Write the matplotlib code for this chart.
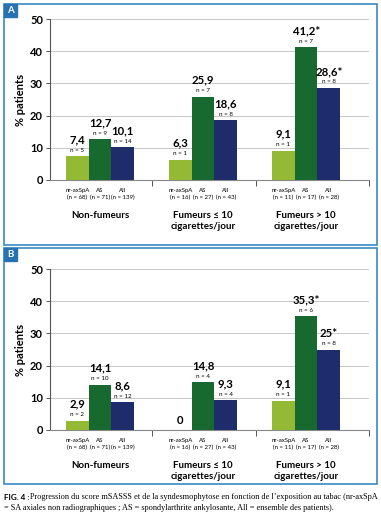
import matplotlib
matplotlib.use("Agg")
import matplotlib.pyplot as plt
from matplotlib.patches import Rectangle

groups = ["Non-fumeurs", "Fumeurs \u2264 10\ncigarettes/jour", "Fumeurs > 10\ncigarettes/jour"]
series = ["nr-axSpA", "AS", "All"]
group_n = [[68, 71, 139], [16, 27, 43], [11, 17, 28]]
colors = ["#93b935", "#17692f", "#1f2c6b"]

values_a = [[7.4, 12.7, 10.1], [6.3, 25.9, 18.6], [9.1, 41.2, 28.6]]
n_a = [[5, 9, 14], [1, 7, 8], [1, 7, 8]]
star_a = [[False, False, False], [False, False, False], [False, True, True]]

values_b = [[2.9, 14.1, 8.6], [0, 14.8, 9.3], [9.1, 35.3, 25]]
n_b = [[2, 10, 12], [None, 4, 4], [1, 6, 8]]
star_b = [[False, False, False], [False, False, False], [False, True, True]]

yticks = [0, 10, 20, 30, 40, 50]

FONT = "Lato"
W, H = 381, 516
BORDER = "#3a8ac4"


def fmt(v, star):
    s = ("%g" % v).replace(".", ",")
    return s + ("*" if star else "")


def draw_panel(ax, values, ns, stars):
    width = 0.22
    for g in range(len(groups)):
        for s in range(len(series)):
            x = g + (s - 1) * width
            v = values[g][s]
            ax.bar(x, v, width=width, color=colors[s], zorder=3)
            if ns[g][s] is not None:
                ax.annotate("n = %d" % ns[g][s], xy=(x, v), xytext=(0, 4.3),
                            textcoords="offset points", ha="center", va="center",
                            fontsize=4.5, family=FONT)
                ax.annotate(fmt(v, stars[g][s]), xy=(x, v), xytext=(0, 11.8),
                            textcoords="offset points", ha="center", va="center",
                            fontsize=8.2, family=FONT, fontweight="bold")
            else:
                ax.annotate(fmt(v, stars[g][s]), xy=(x, v), xytext=(0, 6.5),
                            textcoords="offset points", ha="center", va="center",
                            fontsize=8.2, family=FONT, fontweight="bold")
            ax.annotate(series[s], xy=(x, 0), xycoords=("data", "axes fraction"),
                        xytext=(0, -7.4), textcoords="offset points",
                        ha="center", va="center", fontsize=4.3, family=FONT)
            ax.annotate("(n = %d)" % group_n[g][s], xy=(x, 0),
                        xycoords=("data", "axes fraction"),
                        xytext=(0, -12.4), textcoords="offset points",
                        ha="center", va="center", fontsize=4.3, family=FONT)
        ax.annotate(groups[g], xy=(g, 0), xycoords=("data", "axes fraction"),
                    xytext=(0, -22.5), textcoords="offset points",
                    ha="center", va="top", fontsize=7.0, family=FONT,
                    fontweight="bold", linespacing=1.2)

    ax.set_xlim(-0.485, 2.61)
    ax.set_ylim(0, 50)
    ax.set_yticks(yticks)
    ax.set_yticklabels([str(t) for t in yticks], fontsize=8, family=FONT,
                       fontweight="bold")
    ax.set_xticks([0.505, 1.515, 2.61])
    ax.set_xticklabels([])
    ax.tick_params(axis="x", length=4, color="#555555", width=0.7)
    ax.tick_params(axis="y", length=3, color="#555555", width=0.7, pad=2)
    ax.grid(axis="y", color="#c8c8c8", linewidth=0.7, zorder=0)
    ax.set_axisbelow(True)
    for sp in ["top", "right"]:
        ax.spines[sp].set_visible(False)
    ax.spines["left"].set_color("#555555")
    ax.spines["bottom"].set_color("#888888")
    ax.spines["left"].set_linewidth(0.8)
    ax.spines["bottom"].set_linewidth(0.8)
    ax.set_ylabel("% patients", fontsize=8, family=FONT, fontweight="bold",
                  labelpad=3)


def panel_frame(fig, top, bottom, letter):
    rect = Rectangle((4 / W, 1 - bottom / H), 373 / W, (bottom - top) / H,
                     transform=fig.transFigure, fill=False, edgecolor=BORDER,
                     linewidth=1.2)
    fig.patches.append(rect)
    box = Rectangle((4 / W, 1 - (top + 13) / H), 13 / W, 13 / H,
                    transform=fig.transFigure, color="#2672b2")
    fig.patches.append(box)
    fig.text(10.5 / W, 1 - (top + 6.5) / H, letter, color="white", fontsize=7,
             fontweight="bold", family=FONT, ha="center", va="center")


fig = plt.figure(figsize=(W / 100, H / 100), dpi=100)

ax_a = fig.add_axes([50 / W, 1 - 180 / H, 319 / W, 161 / H])
draw_panel(ax_a, values_a, n_a, star_a)
ax_b = fig.add_axes([50 / W, 1 - 430 / H, 319 / W, 161 / H])
draw_panel(ax_b, values_b, n_b, star_b)

panel_frame(fig, 4, 245, "A")
panel_frame(fig, 248, 484, "B")

fig.text(4 / W, 1 - 497 / H, "FIG. 4 :", fontsize=5.9, fontweight="bold",
         family=FONT, va="center", ha="left")
fig.text(30 / W, 1 - 497 / H,
         "Progression du score mSASSS et de la syndesmophytose en fonction de "
         "l\u2019exposition au tabac (nr-axSpA",
         fontsize=5.95, family="Liberation Serif", va="center", ha="left")
fig.text(4 / W, 1 - 508 / H,
         "= SA axiales non radiographiques ; AS = spondylarthrite ankylosante, "
         "All = ensemble des patients).",
         fontsize=5.95, family="Liberation Serif", va="center", ha="left")

fig.savefig("out.png", dpi=100)
